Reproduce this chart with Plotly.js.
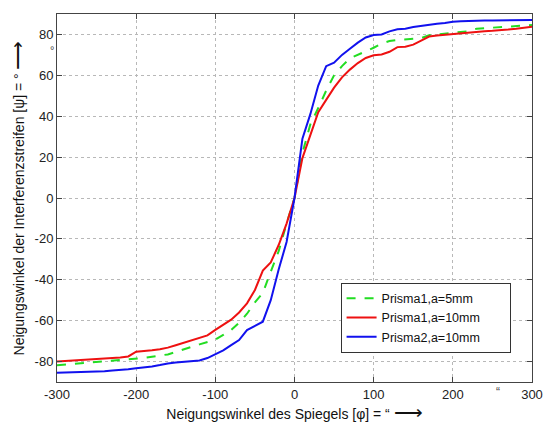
<!DOCTYPE html>
<html>
<head>
<meta charset="utf-8">
<script src="https://cdn.plot.ly/plotly-3.0.1.min.js"></script>
<style>html,body{margin:0;padding:0;background:#fff;}#chart{width:543px;height:423px;}</style>
</head>
<body>
<div id="chart"></div>
<script>
const xValues = [-300,-290,-280,-270,-260,-250,-240,-230,-220,-210,-200,-190,-180,-170,-160,-150,-140,-130,-120,-110,-100,-90,-80,-70,-60,-50,-40,-30,-20,-10,0,10,20,30,40,50,60,70,80,90,100,110,120,130,140,150,160,170,180,190,200,210,220,230,240,250,260,270,280,290,300];

const prisma1a5 = [-81.8,-81.5,-81.0,-80.6,-80.3,-80.0,-79.8,-79.6,-79.3,-79.0,-78.8,-78.2,-77.6,-77.0,-76.5,-75.3,-74.2,-72.8,-71.6,-70.4,-69.3,-67.0,-64.6,-61.0,-56.6,-51.0,-46.5,-36.0,-26.0,-12.5,0,22,36,44,52.5,60,64.5,68.3,70,71.8,73.5,75.5,76.8,77.3,77.5,77.8,78.2,79.6,80.0,80.3,80.6,81.0,81.6,82.8,83.1,83.3,83.5,83.7,84.0,84.3,84.6];

const prisma1a10 = [-80.0,-79.8,-79.5,-79.2,-78.9,-78.7,-78.5,-78.3,-78.0,-77.5,-75.2,-75.0,-74.5,-74.0,-73.2,-72.0,-70.8,-69.6,-68.6,-67.2,-64.5,-62.0,-59.5,-56.0,-51.5,-45.0,-35.5,-31.5,-23.0,-12.5,0,19.5,31,42,48,54,59,62.8,66,68.5,69.8,70.2,71.5,73.8,74.0,75.0,77.0,79.0,79.5,79.9,80.2,80.5,80.8,81.3,81.6,81.8,82.0,82.4,82.8,83.3,83.8];

const prisma2a10 = [-85.5,-85.4,-85.2,-85.0,-84.9,-84.8,-84.7,-84.4,-84.2,-83.8,-83.3,-83.0,-82.4,-81.7,-80.9,-80.5,-80.1,-79.8,-79.5,-78.3,-76.4,-74.5,-72.0,-69.5,-64.6,-62.5,-60.5,-50.0,-35.0,-21.5,0,29,41,55,64.5,66.2,70,73,76,78.5,79.7,80.0,81.5,82.5,82.8,83.6,84.2,84.8,85.2,85.6,86.2,86.4,86.6,86.7,86.8,86.8,86.9,87.0,87.0,87.1,87.1];

const seriesNames = ['Prisma1,a=5mm','Prisma1,a=10mm','Prisma2,a=10mm'];
const xTicks = [-300,-200,-100,0,100,200,300];
const yTicks = [-80,-60,-40,-20,0,20,40,60,80];

const FONT = 'Liberation Sans, Arial, sans-serif';
const PAD = '\u00a0'.repeat(7);

const traces = [
  {x:xValues, y:prisma1a5, name:seriesNames[0] + PAD, mode:'lines', line:{color:'#22dd22', width:2, dash:'dash'}},
  {x:xValues, y:prisma1a10, name:seriesNames[1] + PAD, mode:'lines', line:{color:'#ee1111', width:2}},
  {x:xValues, y:prisma2a10, name:seriesNames[2] + PAD, mode:'lines', line:{color:'#1111ee', width:2}}
];

const axisCommon = {
  showline:true, linecolor:'#444', linewidth:1, mirror:'ticks',
  ticks:'inside', ticklen:5, tickcolor:'#444',
  showgrid:true, gridcolor:'#b8b8b8', griddash:'dot', gridwidth:1,
  zeroline:false, tickfont:{family:FONT, size:13, color:'#222'}
};

const layout = {
  width:543, height:423,
  margin:{l:57, r:11, t:14, b:41},
  paper_bgcolor:'#fff', plot_bgcolor:'#fff',
  showlegend:true,
  legend:{x:0.597, y:0.27, xanchor:'left', yanchor:'top', bgcolor:'#fff', bordercolor:'#333', borderwidth:1,
          font:{family:FONT, size:12.5, color:'#111'}, tracegroupgap:0},
  xaxis:Object.assign({}, axisCommon, {range:[-300,300], tickvals:xTicks, ticktext:xTicks.map(String),
          title:{text:'Neigungswinkel des Spiegels [φ] = “ <span style="font-size:20px">⟶</span>', font:{family:FONT, size:14, color:'#111'}, standoff:4}}),
  yaxis:Object.assign({}, axisCommon, {range:[-90,90], tickvals:yTicks, ticktext:yTicks.map(String),
          title:{text:'Neigungswinkel der Interferenzstreifen [ψ] = ° <span style="font-size:20px">⟶</span>', font:{family:FONT, size:14, color:'#111'}, standoff:6}}),
  annotations:[
    {xref:'paper', yref:'paper', x:-0.003, y:0.902, text:'°', showarrow:false, xanchor:'right', yanchor:'middle', font:{family:FONT, size:11, color:'#444'}},
    {xref:'x', yref:'paper', x:257, y:-0.003, yanchor:'top', text:'“', showarrow:false, font:{family:FONT, size:12, color:'#444'}}
  ]
};

Plotly.newPlot('chart', traces, layout, {displayModeBar:false, staticPlot:true});
</script>
</body>
</html>
